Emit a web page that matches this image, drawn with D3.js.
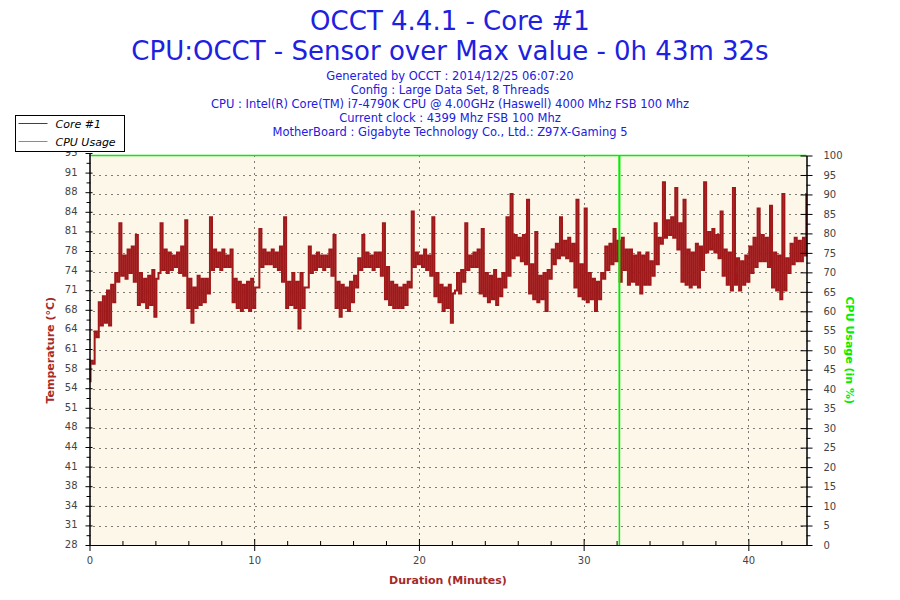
<!DOCTYPE html>
<html>
<head>
<meta charset="utf-8">
<script src="https://cdn.jsdelivr.net/npm/d3@7"></script>
<style>
  body { margin: 0; background: #fff; }
  svg text { font-family: "DejaVu Sans", Verdana, sans-serif; }
</style>
</head>
<body>
<div id="graph"></div>
<script>
// global variables
var chart_width = 900;
var chart_height = 600;

var titleLines = ['OCCT 4.4.1 - Core #1', 'CPU:OCCT - Sensor over Max value - 0h 43m 32s'];
var infoLines = [
  'Generated by OCCT : 2014/12/25 06:07:20',
  'Config : Large Data Set, 8 Threads',
  'CPU : Intel(R) Core(TM) i7-4790K CPU @ 4.00GHz (Haswell) 4000 Mhz FSB 100 Mhz',
  'Current clock : 4399 Mhz FSB 100 Mhz',
  'MotherBoard : Gigabyte Technology Co., Ltd.: Z97X-Gaming 5'
];

// duration of the test in minutes (0h 43m 32s)
var durationMax = 43.53;
var minuteTicks = [0, 10, 20, 30, 40];

// temperature axis goes from 28 to 95, lined up with 0..100 % usage
var tempMin = 28;
var tempMax = 95;
var usageTicks = [0, 5, 10, 15, 20, 25, 30, 35, 40, 45, 50, 55, 60, 65, 70, 75, 80, 85, 90, 95, 100];

// Core #1 temperature, read every quarter minute as low / high of the noisy band
var sampleStep = 0.25;
var tempLow = [
  56.0, 59.0, 63.5, 65.5, 66.0, 65.5, 69.5, 73.0, 74.0, 73.5, 74.5, 73.0,
  69.0, 69.5, 68.5, 69.0, 67.0, 74.5, 75.0, 74.5, 75.0, 75.5, 74.5, 74.0,
  68.5, 66.0, 68.5, 69.0, 69.5, 71.0, 75.0, 75.5, 75.0, 75.5, 75.5, 69.5,
  68.5, 68.0, 68.5, 68.0, 68.5, 72.0, 75.5, 76.0, 76.0, 75.5, 75.0, 73.0,
  68.5, 69.0, 68.5, 65.0, 68.5, 72.0, 74.5, 75.0, 75.5, 75.0, 75.5, 74.0,
  68.5, 67.0, 68.5, 68.0, 69.5, 72.0, 75.0, 75.5, 75.5, 75.0, 75.5, 74.0,
  70.0, 69.0, 68.5, 68.5, 68.5, 69.0, 72.0, 75.5, 76.0, 75.5, 75.0, 74.0,
  70.5, 69.5, 68.0, 68.5, 66.0, 71.5, 71.0, 73.0, 75.0, 75.5, 75.5, 71.0,
  70.5, 69.5, 70.0, 69.0, 70.5, 72.0, 74.0, 77.0, 77.5, 76.5, 76.0, 71.0,
  70.0, 69.5, 70.0, 68.0, 73.5, 76.0, 77.0, 77.5, 77.0, 76.5, 72.0, 70.5,
  70.0, 69.5, 70.0, 68.0, 70.0, 73.5, 75.0, 76.0, 76.5, 73.0, 75.0, 72.5,
  73.0, 72.5, 71.0, 72.5, 72.5, 74.0, 76.0, 79.5, 80.5, 81.0, 80.5, 78.5,
  73.0, 72.5, 72.0, 72.5, 72.0, 75.0, 78.0, 78.5, 78.0, 77.0, 74.0, 72.5,
  71.5, 72.5, 71.5, 72.5, 73.0, 74.5, 75.5, 76.5, 76.5, 75.5, 72.0, 71.5,
  70.0, 71.5, 74.5, 76.0, 76.5, 76.5, 77.5
];
var tempHigh = [
  59.5, 64.5, 69.5, 70.5, 71.5, 72.5, 74.5, 83.0, 77.5, 78.5, 79.0, 81.0,
  74.5, 73.5, 74.0, 75.0, 73.5, 83.0, 78.5, 78.0, 77.5, 78.0, 79.0, 83.5,
  73.5, 72.0, 74.0, 73.5, 73.5, 84.0, 78.5, 78.0, 78.5, 77.5, 78.5, 73.5,
  73.0, 72.5, 73.0, 73.5, 72.0, 82.0, 78.5, 78.0, 78.5, 78.0, 79.0, 84.0,
  73.0, 74.5, 73.0, 74.5, 72.0, 79.0, 77.5, 78.0, 77.5, 77.5, 78.5, 81.0,
  73.0, 72.5, 72.0, 73.0, 74.0, 77.0, 81.0, 78.0, 77.5, 78.0, 78.0, 83.0,
  75.5, 73.0, 72.5, 72.0, 72.5, 73.0, 85.0, 78.0, 77.5, 78.5, 77.5, 84.0,
  74.5, 72.5, 72.0, 72.5, 71.0, 74.5, 75.0, 83.0, 77.5, 78.0, 78.5, 82.0,
  74.5, 74.0, 75.0, 73.5, 74.5, 84.0, 88.0, 81.0, 80.5, 81.0, 87.0, 76.0,
  81.5, 74.0, 74.5, 75.0, 78.5, 79.5, 84.0, 80.0, 80.5, 79.5, 87.0, 76.0,
  85.5, 74.5, 73.5, 73.0, 74.5, 79.0, 79.5, 82.0, 80.0, 80.5, 78.5, 78.5,
  77.5, 78.0, 77.5, 78.0, 76.5, 83.0, 80.5, 90.0, 83.5, 84.0, 89.0, 83.0,
  87.0, 78.5, 78.0, 79.5, 79.0, 90.0, 81.5, 82.0, 81.0, 85.0, 78.5, 78.0,
  89.0, 77.0, 76.5, 77.5, 79.0, 80.5, 85.5, 81.0, 80.5, 86.0, 78.0, 77.5,
  88.0, 77.0, 79.5, 80.5, 80.0, 80.5, 88.0
];

// CPU usage stays at 100 % except one short drop
var cpuMinutes = [0, 32.15, 32.17, 32.19, 43.53];
var cpuUsage = [100, 100, 0, 100, 100];

var legendNames = ['Core #1', 'CPU Usage'];
var tempColor = '#a0191a';
var titleBrown = '#a52a2a';
var cpuColor = '#00ee00';
var textBlue = '#2020e0';
var tickGrey = '#444';

// plot area (plotTop, not top: window.top can't be overwritten)
var plotLeft = 89.5, plotRight = 806.5, plotTop = 155.5, plotBottom = 545;
// the temperature scale ends a little higher than the usage scale
var tempTop = 153;

var x_scale = d3.scaleLinear().domain([0, durationMax]).range([plotLeft, plotRight]);
var y_usage = d3.scaleLinear().domain([0, 100]).range([plotBottom, plotTop]);
var y_temp = d3.scaleLinear().domain([tempMin, tempMax]).range([plotBottom, tempTop]);

var svg = d3.select('#graph')
  .append('svg')
  .attr('width', chart_width)
  .attr('height', chart_height);

// titles
svg.selectAll('.title')
  .data(titleLines)
  .enter()
  .append('text')
  .attr('class', 'title')
  .attr('x', 450)
  .attr('y', function (d, i) { return 30 + i * 30; })
  .attr('text-anchor', 'middle')
  .attr('font-size', 26)
  .attr('fill', textBlue)
  .text(function (d) { return d; });

svg.selectAll('.info')
  .data(infoLines)
  .enter()
  .append('text')
  .attr('class', 'info')
  .attr('x', 450)
  .attr('y', function (d, i) { return 80 + i * 14; })
  .attr('text-anchor', 'middle')
  .attr('font-size', 11.5)
  .attr('fill', textBlue)
  .text(function (d) { return d; });

// background of the plot
svg.append('rect')
  .attr('x', plotLeft)
  .attr('y', plotTop)
  .attr('width', plotRight - plotLeft)
  .attr('height', plotBottom - plotTop)
  .attr('fill', '#fdf7ea');

// dotted grid
var gridVals = usageTicks.filter(function (v) { return v > 0 && v < 100; });
svg.append('g')
  .selectAll('line')
  .data(gridVals)
  .enter()
  .append('line')
  .attr('x1', plotLeft + 4)
  .attr('x2', plotRight)
  .attr('y1', function (d) { return Math.round(y_usage(d)) + 0.5; })
  .attr('y2', function (d) { return Math.round(y_usage(d)) + 0.5; })
  .attr('stroke', '#000')
  .attr('stroke-dasharray', '1,5');

svg.append('g')
  .selectAll('line')
  .data(minuteTicks.filter(function (v) { return v > 0; }))
  .enter()
  .append('line')
  .attr('x1', function (d) { return Math.round(x_scale(d)) + 0.5; })
  .attr('x2', function (d) { return Math.round(x_scale(d)) + 0.5; })
  .attr('y1', plotTop)
  .attr('y2', plotBottom)
  .attr('stroke', '#000')
  .attr('stroke-dasharray', '1,5');

// temperature line: steps between low and high of each sample
var tempPoints = [];
tempLow.forEach(function (lo, i) {
  tempPoints.push({ t: i * sampleStep, v: lo });
  tempPoints.push({ t: i * sampleStep + sampleStep / 2, v: tempHigh[i] });
});

var tempLine = d3.line()
  .curve(d3.curveStep)
  .x(function (d) { return x_scale(Math.min(d.t, durationMax)); })
  .y(function (d) { return y_temp(d.v); });

svg.append('path')
  .datum(tempPoints)
  .attr('fill', 'none')
  .attr('stroke', tempColor)
  .attr('stroke-width', 2)
  .attr('d', tempLine);

var cpuLine = d3.line()
  .x(function (d, i) { return x_scale(cpuMinutes[i]); })
  .y(function (d) { return y_usage(d); });

svg.append('path')
  .datum(cpuUsage)
  .attr('fill', 'none')
  .attr('stroke', cpuColor)
  .attr('stroke-width', 1.5)
  .attr('d', cpuLine);

// axes
var tempTickVals = usageTicks.map(function (p) { return tempMin + (tempMax - tempMin) * p / 100; });
var tempMinor = usageTicks.slice(1).map(function (p) { return tempMin + (tempMax - tempMin) * (p - 2.5) / 100; });

function styleAxis(g) {
  g.selectAll('.tick text').attr('fill', tickGrey).attr('font-size', 10)
    .attr('font-family', '"DejaVu Sans", Verdana, sans-serif');
  g.select('.domain').attr('stroke', '#000');
  g.selectAll('.tick line').attr('stroke', '#000');
}

var leftAxis = svg.append('g')
  .attr('transform', 'translate(' + plotLeft + ',0)')
  .call(d3.axisLeft(y_temp)
    .tickValues(tempTickVals)
    .tickFormat(function (d) { return Math.floor(d + 1e-9); })
    .tickSize(4)
    .tickSizeOuter(0)
    .tickPadding(8));
leftAxis.selectAll('.tick line').attr('x1', 3);
leftAxis.selectAll('.tick text').attr('dy', '0.25em');
styleAxis(leftAxis);

svg.append('g')
  .attr('transform', 'translate(' + plotLeft + ',0)')
  .call(d3.axisLeft(y_temp).tickValues(tempMinor).tickSize(3).tickSizeOuter(0).tickFormat(''))
  .call(styleAxis)
  .selectAll('.tick line').attr('x1', 1);

var rightAxis = svg.append('g')
  .attr('transform', 'translate(' + plotRight + ',0)')
  .call(d3.axisRight(y_usage)
    .tickValues(usageTicks)
    .tickSize(6)
    .tickSizeOuter(0)
    .tickPadding(11));
rightAxis.selectAll('.tick line').attr('x1', -6);
styleAxis(rightAxis);

svg.append('g')
  .attr('transform', 'translate(' + plotRight + ',0)')
  .call(d3.axisRight(y_usage).tickValues(usageTicks.slice(1).map(function (v) { return v - 2.5; }))
    .tickSize(4).tickSizeOuter(0).tickFormat(''))
  .call(styleAxis);

var minorMinutes = d3.range(2, 43, 2).filter(function (v) { return v % 10 !== 0; });
var bottomAxis = svg.append('g')
  .attr('transform', 'translate(0,' + plotBottom + ')')
  .call(d3.axisBottom(x_scale)
    .tickValues(minuteTicks)
    .tickSize(6)
    .tickSizeOuter(0)
    .tickPadding(6));
bottomAxis.selectAll('.tick line').attr('y1', function (d) { return d === 0 ? 0 : -6; });
styleAxis(bottomAxis);

svg.append('g')
  .attr('transform', 'translate(0,' + plotBottom + ')')
  .call(d3.axisBottom(x_scale).tickValues(minorMinutes).tickSize(-4).tickSizeOuter(0).tickFormat(''))
  .call(styleAxis);

// axis titles
svg.append('text')
  .attr('transform', 'translate(54,' + ((plotTop + plotBottom) / 2) + ') rotate(-90)')
  .attr('text-anchor', 'middle')
  .attr('font-size', 11)
  .attr('font-weight', 'bold')
  .attr('fill', titleBrown)
  .text('Temperature (°C)');

svg.append('text')
  .attr('transform', 'translate(846,' + ((plotTop + plotBottom) / 2) + ') rotate(90)')
  .attr('text-anchor', 'middle')
  .attr('font-size', 11)
  .attr('font-weight', 'bold')
  .attr('fill', cpuColor)
  .text('CPU Usage (in %)');

svg.append('text')
  .attr('x', (plotLeft + plotRight) / 2)
  .attr('y', 584)
  .attr('text-anchor', 'middle')
  .attr('font-size', 11)
  .attr('font-weight', 'bold')
  .attr('fill', titleBrown)
  .text('Duration (Minutes)');

// legend
var legend = svg.append('g').attr('transform', 'translate(15.5,115.5)');
legend.append('rect')
  .attr('width', 109)
  .attr('height', 36)
  .attr('fill', '#fff')
  .attr('stroke', '#000');

var legendItems = legend.selectAll('.legend')
  .data(legendNames)
  .enter()
  .append('g')
  .attr('class', 'legend')
  .attr('transform', function (d, i) { return 'translate(0,' + (8 + i * 18) + ')'; });

legendItems.append('line')
  .attr('x1', 3)
  .attr('x2', 32)
  .attr('stroke', function (d, i) { return i === 0 ? tempColor : cpuColor; });

legendItems.append('text')
  .attr('x', 40)
  .attr('y', 4)
  .attr('font-size', 11)
  .attr('font-style', 'italic')
  .attr('fill', '#000')
  .text(function (d) { return d; });
</script>
</body>
</html>
